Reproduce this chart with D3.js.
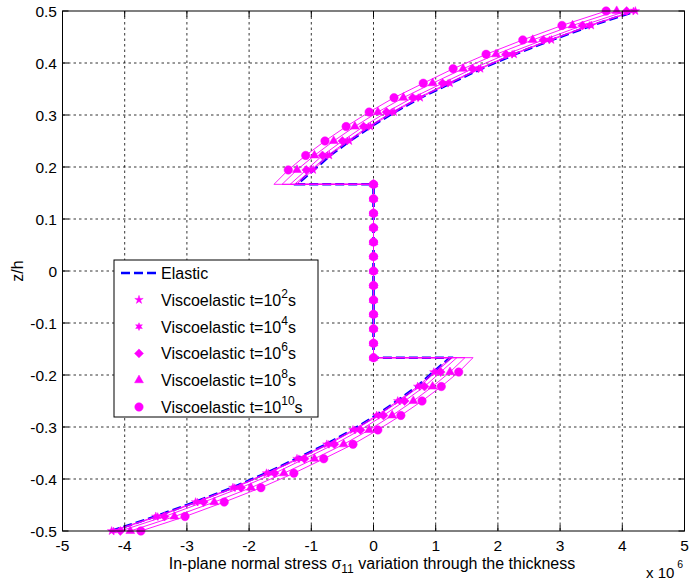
<!DOCTYPE html>
<html>
<head>
<meta charset="utf-8">
<script src="https://cdn.jsdelivr.net/npm/d3@7"></script>
<style>
  body { margin: 0; background: #fff; }
  svg text { font-family: "Liberation Sans", Arial, sans-serif; fill: #000; }
</style>
</head>
<body>
<div id="chart"></div>
<script>
// tick labels
const xTicks = [-5, -4, -3, -2, -1, 0, 1, 2, 3, 4, 5];
const yTicks = [-0.5, -0.4, -0.3, -0.2, -0.1, 0, 0.1, 0.2, 0.3, 0.4, 0.5];

// z/h positions: bottom face, core, top face
const zBottom = [-0.5, -0.4722, -0.4444, -0.4167, -0.3889, -0.3611, -0.3333, -0.3056, -0.2778, -0.25, -0.2222, -0.1944, -0.1667];
const zCore = [-0.1667, -0.1389, -0.1111, -0.0833, -0.0556, -0.0278, 0, 0.0278, 0.0556, 0.0833, 0.1111, 0.1389, 0.1667];
const zTop = [0.1667, 0.1944, 0.2222, 0.25, 0.2778, 0.3056, 0.3333, 0.3611, 0.3889, 0.4167, 0.4444, 0.4722, 0.5];

// stress in the core (x 10^6)
const coreStress = [0, 0, 0, 0, 0, 0, 0, 0, 0, 0, 0, 0, 0];

// stress in the faces (x 10^6)
const elasticBottom = [-4.22, -3.51, -2.87, -2.27, -1.73, -1.24, -0.76, -0.34, 0.04, 0.38, 0.70, 0.96, 1.23];
const elasticTop = [-1.23, -0.96, -0.70, -0.38, -0.04, 0.34, 0.76, 1.24, 1.73, 2.27, 2.87, 3.51, 4.22];

const visc2Bottom = [-4.21, -3.50, -2.86, -2.26, -1.72, -1.23, -0.75, -0.33, 0.05, 0.39, 0.71, 0.97, 1.24];
const visc2Top = [-1.24, -0.97, -0.71, -0.39, -0.05, 0.33, 0.75, 1.23, 1.72, 2.26, 2.86, 3.50, 4.21];

const visc4Bottom = [-4.18, -3.47, -2.83, -2.23, -1.69, -1.20, -0.72, -0.30, 0.08, 0.42, 0.74, 1.00, 1.27];
const visc4Top = [-1.27, -1.00, -0.74, -0.42, -0.08, 0.30, 0.72, 1.20, 1.69, 2.23, 2.83, 3.47, 4.18];

const visc6Bottom = [-4.07, -3.36, -2.73, -2.13, -1.59, -1.11, -0.63, -0.21, 0.16, 0.50, 0.82, 1.08, 1.34];
const visc6Top = [-1.34, -1.08, -0.82, -0.50, -0.16, 0.21, 0.63, 1.11, 1.59, 2.13, 2.73, 3.36, 4.07];

const visc8Bottom = [-3.91, -3.20, -2.56, -1.97, -1.44, -0.95, -0.48, -0.07, 0.30, 0.64, 0.95, 1.23, 1.47];
const visc8Top = [-1.47, -1.23, -0.95, -0.64, -0.30, 0.07, 0.48, 0.95, 1.44, 1.97, 2.56, 3.20, 3.91];

const visc10Bottom = [-3.74, -3.03, -2.40, -1.81, -1.28, -0.80, -0.33, 0.07, 0.44, 0.78, 1.09, 1.37, 1.60];
const visc10Top = [-1.60, -1.37, -1.09, -0.78, -0.44, -0.07, 0.33, 0.80, 1.28, 1.81, 2.40, 3.03, 3.74];

const seriesNames = ["Elastic", "2", "4", "6", "8", "10"];

const W = 692, H = 584;
const x = d3.scaleLinear().domain([-5, 5]).range([62.5, 684.5]);
const y = d3.scaleLinear().domain([-0.5, 0.5]).range([531, 11]);

const svg = d3.select("#chart").append("svg")
    .attr("width", W).attr("height", H);

// custom marker shapes
const hexagram = {
  draw(ctx, size) {
    const r = Math.sqrt(size / 1.6), ri = r * 0.5;
    for (let i = 0; i < 12; i++) {
      const a = -Math.PI / 2 + i * Math.PI / 6;
      const rr = i % 2 ? ri : r;
      if (i === 0) ctx.moveTo(rr * Math.cos(a), rr * Math.sin(a));
      else ctx.lineTo(rr * Math.cos(a), rr * Math.sin(a));
    }
    ctx.closePath();
  }
};
const diamond = {
  draw(ctx, size) {
    const r = Math.sqrt(size / 2);
    ctx.moveTo(0, -r); ctx.lineTo(r, 0); ctx.lineTo(0, r); ctx.lineTo(-r, 0);
    ctx.closePath();
  }
};

// grid
const grid = svg.append("g");
grid.selectAll(".gx").data(xTicks.slice(1, -1)).enter().append("line")
    .attr("x1", d => x(d)).attr("x2", d => x(d))
    .attr("y1", y(0.5)).attr("y2", y(-0.5))
    .attr("stroke", "#000").attr("stroke-width", 0.8).attr("stroke-dasharray", "2.5,3");
grid.selectAll(".gy").data(yTicks.slice(1, -1)).enter().append("line")
    .attr("y1", d => y(d)).attr("y2", d => y(d))
    .attr("x1", x(-5)).attr("x2", x(5))
    .attr("stroke", "#000").attr("stroke-width", 0.8).attr("stroke-dasharray", "2.5,3");

// build points of one profile
function profile(bot, top) {
  const pts = [];
  zBottom.forEach((z, i) => pts.push({ s: bot[i], z: z, mark: i < zBottom.length - 1 }));
  zCore.forEach((z, i) => pts.push({ s: coreStress[i], z: z, mark: true }));
  zTop.forEach((z, i) => pts.push({ s: top[i], z: z, mark: i > 0 }));
  return pts;
}

const line = d3.line().x(d => x(d.s)).y(d => y(d.z));
const plot = svg.append("g");

// elastic
plot.append("path")
    .attr("d", line(profile(elasticBottom, elasticTop)))
    .attr("fill", "none").attr("stroke", "#0000ff")
    .attr("stroke-width", 2.6).attr("stroke-dasharray", "9,4");

const visco = [
  { b: visc2Bottom, t: visc2Top, sym: d3.symbolStar, size: 22 },
  { b: visc4Bottom, t: visc4Top, sym: hexagram, size: 24 },
  { b: visc6Bottom, t: visc6Top, sym: diamond, size: 40 },
  { b: visc8Bottom, t: visc8Top, sym: d3.symbolTriangle, size: 34 },
  { b: visc10Bottom, t: visc10Top, sym: d3.symbolCircle, size: 56 }
];

visco.forEach(v => {
  const pts = profile(v.b, v.t);
  plot.append("path")
      .attr("d", line(pts))
      .attr("fill", "none").attr("stroke", "#ff00ff").attr("stroke-width", 0.9);
  plot.selectAll(null).data(pts.filter(d => d.mark)).enter().append("path")
      .attr("transform", d => `translate(${x(d.s)},${y(d.z)})`)
      .attr("d", d3.symbol(v.sym, v.size))
      .attr("fill", "#ff00ff").attr("stroke", "#ff00ff").attr("stroke-width", 0.5);
});

// axes box and ticks
const ax = svg.append("g");
ax.append("rect")
    .attr("x", x(-5)).attr("y", y(0.5))
    .attr("width", x(5) - x(-5)).attr("height", y(-0.5) - y(0.5))
    .attr("fill", "none").attr("stroke", "#000").attr("stroke-width", 1);
xTicks.forEach(t => {
  ax.append("line").attr("x1", x(t)).attr("x2", x(t)).attr("y1", y(-0.5)).attr("y2", y(-0.5) - 6).attr("stroke", "#000");
  ax.append("line").attr("x1", x(t)).attr("x2", x(t)).attr("y1", y(0.5)).attr("y2", y(0.5) + 6).attr("stroke", "#000");
});
yTicks.forEach(t => {
  ax.append("line").attr("y1", y(t)).attr("y2", y(t)).attr("x1", x(-5)).attr("x2", x(-5) + 6).attr("stroke", "#000");
  ax.append("line").attr("y1", y(t)).attr("y2", y(t)).attr("x1", x(5)).attr("x2", x(5) - 6).attr("stroke", "#000");
});

ax.selectAll(".xl").data(xTicks).enter().append("text")
    .attr("x", d => x(d)).attr("y", 551)
    .attr("text-anchor", "middle").attr("font-size", 15.5)
    .text(d => String(d));
ax.selectAll(".yl").data(yTicks).enter().append("text")
    .attr("x", 57).attr("y", d => y(d) + 5.5)
    .attr("text-anchor", "end").attr("font-size", 15.5)
    .text(d => String(d));

// axis labels
const xl = svg.append("text")
    .attr("x", 372).attr("y", 569)
    .attr("text-anchor", "middle").attr("font-size", 16);
xl.append("tspan").text("In-plane normal stress σ");
xl.append("tspan").attr("dy", 4).attr("font-size", 12).text("11");
xl.append("tspan").attr("dy", -4).text(" variation through the thickness");

svg.append("text")
    .attr("transform", "translate(23,271) rotate(-90)")
    .attr("text-anchor", "middle").attr("font-size", 16)
    .text("z/h");

const ex = svg.append("text").attr("x", 646).attr("y", 578).attr("font-size", 15);
ex.append("tspan").text("x 10");
ex.append("tspan").attr("dy", -10).attr("dx", 3).attr("font-size", 10.5).text("6");

// legend
const lg = svg.append("g");
lg.append("rect")
    .attr("x", 114).attr("y", 260).attr("width", 204).attr("height", 157)
    .attr("fill", "#fff").attr("stroke", "#000").attr("stroke-width", 1);
const rowY = i => 273 + i * 26.8;
lg.append("line")
    .attr("x1", 121).attr("x2", 157).attr("y1", rowY(0)).attr("y2", rowY(0))
    .attr("stroke", "#0000ff").attr("stroke-width", 2.6).attr("stroke-dasharray", "9,4");
visco.forEach((v, i) => {
  lg.append("path")
      .attr("transform", `translate(139,${rowY(i + 1)})`)
      .attr("d", d3.symbol(v.sym, v.size))
      .attr("fill", "#ff00ff").attr("stroke", "#ff00ff").attr("stroke-width", 0.5);
});
seriesNames.forEach((n, i) => {
  const t = lg.append("text").attr("x", 161).attr("y", rowY(i) + 6).attr("font-size", 16);
  if (i === 0) { t.text(n); return; }
  t.append("tspan").text("Viscoelastic t=10");
  t.append("tspan").attr("dy", -8).attr("font-size", 12).text(n);
  t.append("tspan").attr("dy", 8).text("s");
});
</script>
</body>
</html>
